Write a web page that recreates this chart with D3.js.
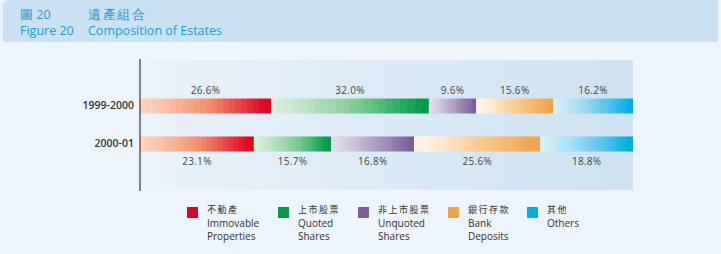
<!DOCTYPE html>
<html><head><meta charset="utf-8">
<script src="https://cdn.jsdelivr.net/npm/d3@7"></script>
<style>
html,body{margin:0;padding:0;background:#eef4fb;}
svg{display:block;font-family:"Open Sans","Noto Sans",sans-serif;}
</style></head>
<body><svg id="c" width="721" height="254"></svg>
<script>
const years = ["1999-2000", "2000-01"];
const seriesKeys = ["immovable", "quoted", "unquoted", "bank", "others"];
const seriesZh = ["不動產", "上市股票", "非上市股票", "銀行存款", "其他"];
const seriesEn = [["Immovable", "Properties"], ["Quoted", "Shares"], ["Unquoted", "Shares"], ["Bank", "Deposits"], ["Others"]];
const immovable = [26.6, 23.1];
const quoted = [32.0, 15.7];
const unquoted = [9.6, 16.8];
const bank = [15.6, 25.6];
const others = [16.2, 18.8];
const seriesColor = ["#e30021", "#009b45", "#7a5f9c", "#f1a446", "#00aee6"];
const seriesLight = ["#fcd6c0", "#dcefdf", "#e4dfec", "#fff7ec", "#dcf0fa"];
const seriesMid = ["#f08b6b", "#7fcb96", "#ab9cc2", "#f7c98e", "#7ccdef"];

const values = {immovable, quoted, unquoted, bank, others};
const svg = d3.select("#c");
const defs = svg.append("defs");

// background
svg.append("rect").attr("width",721).attr("height",254).attr("fill","#eef4fb");
svg.append("path").attr("d","M3,42 L3,6 Q3,0 9,0 L718,0 L718,42 Z").attr("fill","#c9e1f2");
const title = svg.append("g").attr("fill","#1f9ad8").attr("font-size",12.5);
title.append("text").attr("x",20).attr("y",19).text("圖 20");
title.append("text").attr("x",88).attr("y",19).attr("letter-spacing",1.5).text("遺產組合");
title.append("text").attr("x",20).attr("y",35).text("Figure 20");
title.append("text").attr("x",88).attr("y",35).text("Composition of Estates");

const x = d3.scaleLinear().domain([0,100]).range([140,633]);
const y = d3.scaleBand().domain(years).range([87,163]).paddingInner(0.6).paddingOuter(0.3);

// plot background gradient
const pg = defs.append("linearGradient").attr("id","pbg").attr("x1",0).attr("x2",1).attr("y1",0).attr("y2",0);
pg.append("stop").attr("offset",0).attr("stop-color","#eaf2fa");
pg.append("stop").attr("offset",1).attr("stop-color","#cde2f2");
svg.append("rect").attr("x",x(0)).attr("y",60).attr("width",x(100)-x(0)).attr("height",130).attr("fill","url(#pbg)");

// banded gradients
seriesKeys.forEach((k,i)=>{
  const g = defs.append("linearGradient").attr("id","g"+i).attr("x1",0).attr("x2",1).attr("y1",0).attr("y2",0);
  const interp = d3.piecewise(d3.interpolateRgb, [seriesLight[i], seriesMid[i], seriesColor[i]]);
  const n = 22;
  for(let s=0;s<n;s++){
    const t0 = s/n, t1=(s+1)/n;
    const c = interp(Math.min(1, Math.pow((s+0.5)/n,1.2)*1.05));
    g.append("stop").attr("offset",t0).attr("stop-color",c);
    g.append("stop").attr("offset",t1).attr("stop-color",c);
  }
  g.append("stop").attr("offset",0.9).attr("stop-color",seriesColor[i]);
});

const stack = d3.stack().keys(seriesKeys);
const rows = years.map((yr,j)=>{const o={year:yr}; seriesKeys.forEach(k=>o[k]=values[k][j]); return o;});
const stacked = stack(rows);

const barH = 15;
stacked.forEach((layer,i)=>{
  layer.forEach((d,j)=>{
    const yr = years[j];
    const by = y(yr) + y.bandwidth()/2 - barH/2;
    svg.append("rect").attr("x",x(d[0])).attr("y",by).attr("width",x(d[1])-x(d[0])).attr("height",barH)
      .attr("fill","url(#g"+i+")");
    const cx = (x(d[0])+x(d[1]))/2;
    const ly = j===0 ? by-5 : by+barH+13;
    svg.append("text").attr("x",cx).attr("y",ly).attr("text-anchor","middle")
      .attr("font-size",10).attr("fill","#444").attr("letter-spacing",0.3).text(values[seriesKeys[i]][j].toFixed(1)+"%");
  });
});

// axis
const ax = svg.append("g").attr("transform",`translate(${x(0)},0)`).call(d3.axisLeft(y).tickSize(0).tickPadding(6));
ax.select(".domain").attr("d","M0,59V191").attr("stroke","#444").attr("stroke-width",1.3);
ax.selectAll("text").attr("font-size",10.5).attr("font-weight",600).attr("fill","#333").attr("font-family","'Open Sans','Noto Sans',sans-serif");

// legend
const legX = [187, 278, 358, 448, 527];
seriesKeys.forEach((k,i)=>{
  const g = svg.append("g").attr("transform",`translate(${legX[i]},0)`);
  g.append("rect").attr("x",0).attr("y",207).attr("width",11).attr("height",11).attr("fill",seriesColor[i]);
  g.append("text").attr("x",20).attr("y",213).attr("font-size",9).attr("fill","#333").attr("letter-spacing",1.5)
    .attr("font-family","'Noto Sans CJK TC',sans-serif").text(seriesZh[i]);
  seriesEn[i].forEach((t,m)=>{
    g.append("text").attr("x",20).attr("y",227+m*12.5).attr("font-size",10).attr("fill","#333").text(t);
  });
});
</script></body></html>
